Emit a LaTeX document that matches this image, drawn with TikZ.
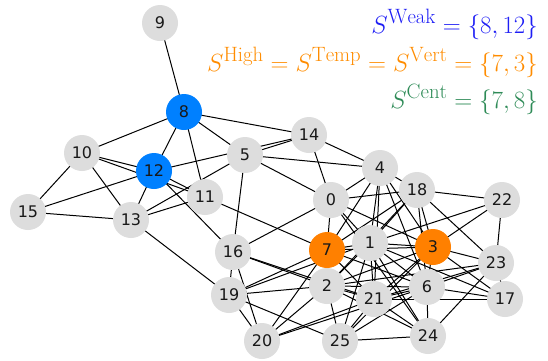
\documentclass[tikz,border=0pt]{standalone}
\usepackage{fontspec}
\newfontfamily\dejavu{DejaVu Sans}
\usetikzlibrary{backgrounds}
\definecolor{ngray}{RGB}{221,221,221}
\definecolor{nblue}{RGB}{0,128,255}
\definecolor{norange}{RGB}{255,128,0}
\definecolor{cweak}{RGB}{30,30,245}
\definecolor{chigh}{RGB}{255,140,0}
\definecolor{ccent}{RGB}{46,139,87}
\tikzset{
  gnode/.style={circle, fill=ngray, minimum size=36pt, inner sep=0pt, font=\dejavu\fontsize{16}{16}\selectfont, text=black!90},
  bnode/.style={gnode, fill=nblue},
  onode/.style={gnode, fill=norange},
  edge/.style={draw=black, line width=1pt},
  lab/.style={anchor=base east, inner sep=0pt, font=\Huge}
}
\begin{document}
\begin{tikzpicture}[x=1pt, y=-1pt]
\useasboundingbox (0,0) rectangle (548,360);
\node[gnode] (n0) at (331,200) {0};
\node[gnode] (n1) at (370,243) {1};
\node[gnode] (n2) at (327,286) {2};
\node[onode] (n3) at (433,247) {3};
\node[gnode] (n4) at (380,168) {4};
\node[gnode] (n5) at (245,155) {5};
\node[gnode] (n6) at (427,287) {6};
\node[onode] (n7) at (327,250) {7};
\node[bnode] (n8) at (184,112) {8};
\node[gnode] (n9) at (160,23) {9};
\node[gnode] (n10) at (82,153) {10};
\node[gnode] (n11) at (205,197) {11};
\node[bnode] (n12) at (154,171) {12};
\node[gnode] (n13) at (131,220) {13};
\node[gnode] (n14) at (309,135) {14};
\node[gnode] (n15) at (28,212) {15};
\node[gnode] (n16) at (233,252) {16};
\node[gnode] (n17) at (505,299) {17};
\node[gnode] (n18) at (417,190) {18};
\node[gnode] (n19) at (229,295) {19};
\node[gnode] (n20) at (262,341) {20};
\node[gnode] (n21) at (374,299) {21};
\node[gnode] (n22) at (502,200) {22};
\node[gnode] (n23) at (496,263) {23};
\node[gnode] (n24) at (428,336) {24};
\node[gnode] (n25) at (340,341) {25};
\begin{scope}[on background layer]
\foreach \a/\b in {9/8, 8/10, 8/12, 8/11, 8/5, 8/14, 10/12, 10/11, 10/15, 10/13,
  12/11, 12/14, 12/16, 12/13, 12/15, 15/13, 13/11, 13/5, 13/19, 11/7,
  5/14, 5/4, 5/0, 5/16, 14/4, 14/0, 4/0, 4/18, 4/1, 4/21, 4/7, 4/3, 4/6,
  0/18, 0/7, 0/1, 0/3, 0/16, 0/24, 18/22, 18/23, 18/3, 18/6, 18/1, 18/2, 18/7,
  22/23, 22/3, 22/1, 23/3, 23/17, 23/24, 23/6, 23/21, 23/2,
  17/3, 17/1, 17/21, 17/6, 24/25, 24/6, 24/21, 24/2, 24/1,
  25/21, 25/3, 25/6, 25/2, 25/1, 25/19, 20/19, 20/16, 20/7, 20/2, 20/21, 20/6,
  19/16, 19/7, 19/1, 19/2, 16/2, 16/21, 7/1, 7/2, 7/21, 7/6, 7/3,
  1/3, 1/2, 1/21, 1/6, 2/21, 2/6, 2/3, 21/3, 21/6, 6/3}
  \draw[edge] (n\a.center) -- (n\b.center);
\end{scope}
\node[lab, text=cweak] (lw) at (538,33) {$S^{\mathrm{Weak}} = \{8, 12\}$};
\node[lab, text=chigh] (lh) at (538,71) {$S^{\mathrm{High}} = S^{\mathrm{Temp}} = S^{\mathrm{Vert}} = \{7, 3\}$};
\node[lab, text=ccent] (lc) at (538,108) {$S^{\mathrm{Cent}} = \{7, 8\}$};
\end{tikzpicture}
\end{document}
